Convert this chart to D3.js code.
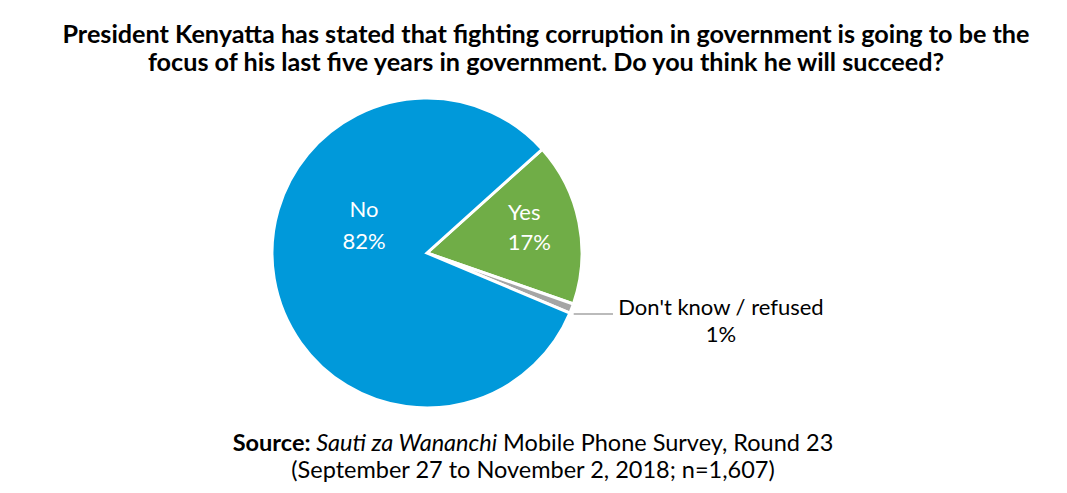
<!DOCTYPE html>
<html>
<head>
<meta charset="utf-8">
<script src="https://cdn.jsdelivr.net/npm/d3@7"></script>
<style>
  body { margin: 0; background: #fff; }
  text { font-family: Lato, "Open Sans", sans-serif; }
</style>
</head>
<body>
<div id="chart"></div>
<script>
// data
const categories = ["Yes", "Don't know / refused", "No"];
const shares = [17, 1, 82];
const sliceColors = ["#70AD47", "#A5A5A5", "#0099DA"];
const titleLines = [
  "President Kenyatta has stated that fighting corruption in government is going to be the",
  "focus of his last five years in government. Do you think he will succeed?"
];

const width = 1067, height = 493;
const cx = 427, cy = 253, radius = 155;

const svg = d3.select("#chart")
  .append("svg")
  .attr("width", width)
  .attr("height", height);

// title
svg.append("g").selectAll("text")
  .data(titleLines)
  .join("text")
  .attr("x", 546)
  .attr("y", (d, i) => 43 + i * 28)
  .attr("text-anchor", "middle")
  .attr("font-size", "25.2px")
  .attr("font-weight", "bold")
  .attr("fill", "#000")
  .text(d => d);

const pieData = d3.pie()
  .sort(null)
  .startAngle(48 * Math.PI / 180)
  .endAngle(48 * Math.PI / 180 + 2 * Math.PI)
  .value(d => d)(shares);

const arc = d3.arc().innerRadius(0).outerRadius(radius);

const g = svg.append("g").attr("transform", `translate(${cx},${cy})`);

g.selectAll("path")
  .data(pieData)
  .join("path")
  .attr("d", arc)
  .attr("fill", (d, i) => sliceColors[i])
  .attr("stroke", "#fff")
  .attr("stroke-width", 3)
  .attr("stroke-linejoin", "miter");

// inside labels (Yes, No)
const labelArc = d3.arc().innerRadius(radius * 0.62).outerRadius(radius * 0.62);
[0, 2].forEach(i => {
  let [lx, ly] = labelArc.centroid(pieData[i]);
  if (i === 2) { lx = 364 - cx; ly = 233 - cy; }
  const t = g.append("text")
    .attr("text-anchor", "middle")
    .attr("fill", "#fff")
    .attr("font-size", "22px");
  t.append("tspan").attr("x", lx + (i === 0 ? 3 : 0)).attr("y", ly - 16 + (i === 0 ? 2 : 0)).text(categories[i]);
  t.append("tspan").attr("x", lx + (i === 0 ? 8 : 0)).attr("y", ly + 16).text(shares[i] + "%");
});

// outside label with a horizontal leader line for the small slice
const small = pieData[1];
const mid = (small.startAngle + small.endAngle) / 2;
const edgeX = Math.sin(mid) * radius;
g.append("line")
  .attr("x1", edgeX + 2)
  .attr("x2", 186)
  .attr("y1", 61)
  .attr("y2", 61)
  .attr("stroke", "#A5A5A5")
  .attr("stroke-width", 1.5);

const ot = g.append("text")
  .attr("text-anchor", "middle")
  .attr("fill", "#000")
  .attr("font-size", "22px");
ot.append("tspan").attr("x", 294).attr("y", 62).text(categories[1]);
ot.append("tspan").attr("x", 294).attr("y", 89).text(shares[1] + "%");

// source note
const src = svg.append("text")
  .attr("x", 533)
  .attr("y", 451)
  .attr("text-anchor", "middle")
  .attr("font-size", "23.5px")
  .attr("fill", "#000");
src.append("tspan").attr("font-weight", "bold").text("Source: ");
src.append("tspan").attr("font-style", "italic").text("Sauti za Wananchi");
src.append("tspan").text(" Mobile Phone Survey, Round 23");
svg.append("text")
  .attr("x", 533)
  .attr("y", 478)
  .attr("text-anchor", "middle")
  .attr("font-size", "23.5px")
  .attr("fill", "#000")
  .text("(September 27 to November 2, 2018; n=1,607)");
</script>
</body>
</html>
